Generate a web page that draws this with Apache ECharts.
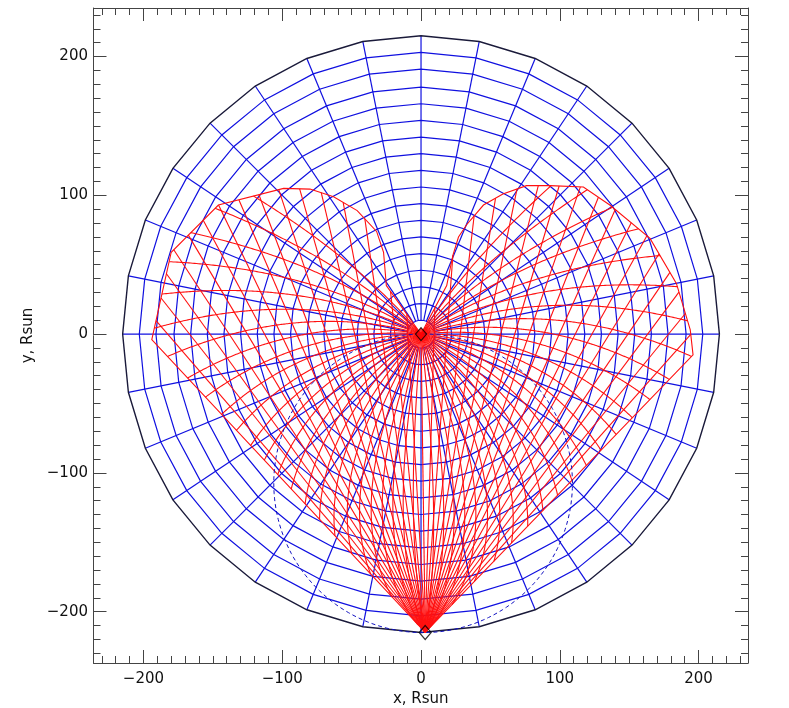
<!DOCTYPE html>
<html><head><meta charset="utf-8">
<script src="https://cdn.jsdelivr.net/npm/echarts@6/dist/echarts.min.js"></script>
<style>html,body{margin:0;padding:0;background:#fff}#c{width:789px;height:708px}</style>
</head><body><div id="c"></div>
<script>
// ---- axis ranges and ticks (Rsun) ----
const X_MIN = -236, X_MAX = 235.6, Y_MIN = -237, Y_MAX = 235;
const MAJOR_TICKS = [-200, -100, 0, 100, 200];
const MINOR_TICKS = [-230,-220,-210,-190,-180,-170,-160,-150,-140,-130,-120,-110,-90,-80,-70,-60,-50,-40,-30,-20,-10,
  10,20,30,40,50,60,70,80,90,110,120,130,140,150,160,170,180,190,210,220,230];
// ---- heliocentric polar grid (blue) ----
const RING_RADII = [10, 22, 34, 46, 58, 70, 82, 94, 106, 118, 130, 142, 154, 166, 178, 191, 203, 215];
const SPOKE_ANGLES = [0, 11.25, 22.5, 33.75, 45, 56.25, 67.5, 78.75, 90, 101.25, 112.5, 123.75, 135, 146.25, 157.5, 168.75,
  180, 191.25, 202.5, 213.75, 225, 236.25, 247.5, 258.75, 270, 281.25, 292.5, 303.75, 315, 326.25, 337.5, 348.75];
// ---- bodies ----
const SUN = [0, 0];
const OBSERVER = [3, -215];
const THOMSON_CENTER = [1.5, -107.5];
const THOMSON_RADIUS = 107.6;
// ---- red mesh: outline of the heart, lines of sight, model directions ----
const HEART_OUTLINE = [[3,-215],[-194,-4],[-180,59],[-146,93],[-99,105],[-80,104.5],[-63,99],[-46,89],[-32,74],[-27,59],[-25,35],[0,0],
  [18.5,35],[23,57],[27,70],[33,79],[45,93],[59,101],[76,107],[93,107],[117,106],[136,93],[165,69],[184,36.5],[194,3],[196,-15],[3,-215]];
const LOS_ELONGATIONS = [-42.5,-40,-37.5,-35,-32.5,-30,-27.5,-25,-22.5,-20,-17.5,-15,-12.5,-10,-7.5,-5,-2.5,0,
  2.5,5,7.5,10,12.5,15,17.5,20,22.5,25,27.5,30,32.5,35,37.5,40,42.5];
const HM_DIRECTIONS = [-78.75,-67.5,-56.25,-45,-33.75,-22.5,-11.25,0,11.25,22.5,33.75,45,56.25,67.5,78.75,90,
  101.25,112.5,123.75,135,146.25,157.5,168.75,180,191.25,202.5,213.75,225,236.25,247.5,258.75];

const rad = Math.PI / 180;
const D = Math.hypot(OBSERVER[0] - SUN[0], OBSERVER[1] - SUN[1]);
const eUp = [-(OBSERVER[0] - SUN[0]) / D, -(OBSERVER[1] - SUN[1]) / D];
const eRight = [eUp[1], -eUp[0]];
function toGlobal(X, Y) { return [SUN[0] + X * eRight[0] + Y * eUp[0], SUN[1] + X * eRight[1] + Y * eUp[1]]; }
function losPoint(epsDeg, s) { const e = epsDeg * rad; return toGlobal(-s * Math.sin(e), -D + s * Math.cos(e)); }
function hmS(eAbs, phi) {
  const e = eAbs * rad, psi = (eAbs + phi) * rad;
  return D * (Math.cos(e) - Math.sin(e) * Math.tan(Math.PI / 4 - psi / 2));
}
const POLY = HEART_OUTLINE.slice(0, -1);
function inside(p) {
  let c = false;
  for (let i = 0, j = POLY.length - 1; i < POLY.length; j = i++) {
    const xi = POLY[i][0], yi = POLY[i][1], xj = POLY[j][0], yj = POLY[j][1];
    if (((yi > p[1]) !== (yj > p[1])) && (p[0] < (xj - xi) * (p[1] - yi) / (yj - yi) + xi)) c = !c;
  }
  return c;
}
function farHit(o, dir) {
  let best = 0;
  for (let i = 0; i < HEART_OUTLINE.length - 1; i++) {
    const a = HEART_OUTLINE[i], b = HEART_OUTLINE[i + 1];
    const ex = b[0] - a[0], ey = b[1] - a[1], ax = a[0] - o[0], ay = a[1] - o[1];
    const det = -dir[0] * ey + ex * dir[1];
    if (Math.abs(det) < 1e-9) continue;
    const t = (-ax * ey + ex * ay) / det;
    const u = (dir[0] * ay - dir[1] * ax) / det;
    if (u >= -1e-6 && u <= 1 + 1e-6 && t > 1 && t > best) best = t;
  }
  return best;
}
function hmCurve(phi, side) {
  const pts = [SUN.slice()];
  let prevE = 0;
  for (let e = 0.2; e <= 46; e += 0.2) {
    const s = hmS(e, phi);
    if (!(s > 0)) { pts.push(OBSERVER.slice()); break; }
    const p = losPoint(side * e, s);
    if (!inside(p)) {
      if (Math.hypot(p[0] - SUN[0], p[1] - SUN[1]) < 1.5) { prevE = e; continue; }
      let lo = prevE, hi = e;
      for (let k = 0; k < 25; k++) {
        const mid = (lo + hi) / 2;
        if (inside(losPoint(side * mid, hmS(mid, phi)))) lo = mid; else hi = mid;
      }
      pts.push(losPoint(side * lo, hmS(lo, phi)));
      break;
    }
    pts.push(p); prevE = e;
  }
  return pts;
}

// ---- build geometry ----
const closedAngles = SPOKE_ANGLES.concat([SPOKE_ANGLES[0]]);
const outerR = RING_RADII[RING_RADII.length - 1];
const ringLines = RING_RADII.slice(0, -1).map(r => ({ coords: closedAngles.map(a => [r * Math.cos(a * rad), r * Math.sin(a * rad)]) }));
const outerRing = [{ coords: closedAngles.map(a => [outerR * Math.cos(a * rad), outerR * Math.sin(a * rad)]) }];
const spokeLines = SPOKE_ANGLES.map(a => ({ coords: [[RING_RADII[0] * Math.cos(a * rad), RING_RADII[0] * Math.sin(a * rad)], [outerR * Math.cos(a * rad), outerR * Math.sin(a * rad)]] }));
const thomson = [{ coords: Array.from({ length: 181 }, (_, i) => [THOMSON_CENTER[0] + THOMSON_RADIUS * Math.cos(i * 2 * rad), THOMSON_CENTER[1] + THOMSON_RADIUS * Math.sin(i * 2 * rad)]) }];
const redLines = [];
LOS_ELONGATIONS.forEach(eps => {
  const p1 = losPoint(eps, 1); const dir = [p1[0] - OBSERVER[0], p1[1] - OBSERVER[1]];
  const s = farHit(OBSERVER, dir);
  if (s > 0) redLines.push({ coords: [OBSERVER.slice(), [OBSERVER[0] + s * dir[0], OBSERVER[1] + s * dir[1]]] });
});
HM_DIRECTIONS.forEach(phi => { [1, -1].forEach(side => { const c = hmCurve(phi, side); if (c.length > 1) redLines.push({ coords: c }); }); });
redLines.push({ coords: HEART_OUTLINE });

const fmt = v => (v < 0 ? '\u2212' + Math.abs(v) : String(v));
const FONT = 'DejaVu Sans';
function axis(kind, pos, ticks, len, main) {
  const o = {
    type: 'value', position: pos,
    min: kind === 'x' ? X_MIN : Y_MIN, max: kind === 'x' ? X_MAX : Y_MAX,
    axisLine: { show: main, onZero: false, lineStyle: { color: '#444', width: 1 } },
    axisTick: { show: true, inside: true, length: len, customValues: ticks, lineStyle: { color: '#444', width: 1 } },
    axisLabel: { show: main && (pos === 'bottom' || pos === 'left'), customValues: MAJOR_TICKS, formatter: fmt,
      margin: kind === 'x' ? 9 : 5.5, color: '#111', fontSize: 15, fontFamily: FONT },
    splitLine: { show: false }
  };
  if (main && pos === 'bottom') Object.assign(o, { name: 'x, Rsun', nameLocation: 'middle', nameGap: 26, nameTextStyle: { fontSize: 15, color: '#111', fontFamily: FONT } });
  if (main && pos === 'left') Object.assign(o, { name: 'y, Rsun', nameLocation: 'middle', nameGap: 55, nameRotate: 90, nameTextStyle: { fontSize: 15, color: '#111', fontFamily: FONT } });
  return o;
}
const chart = echarts.init(document.getElementById('c'), null, { renderer: 'canvas' });
const L = (data, color, width, z, extra) => ({ type: 'lines', coordinateSystem: 'cartesian2d', polyline: true, silent: true, z: z,
  lineStyle: Object.assign({ color: color, width: width, opacity: 1 }, extra || {}), data: data });
chart.setOption({
  animation: false,
  grid: { left: 93.5, right: 41, top: 8, bottom: 45, containLabel: false, outerBoundsMode: 'none' },
  xAxis: [axis('x', 'bottom', MAJOR_TICKS, 13, true), axis('x', 'bottom', MINOR_TICKS, 7, false),
          axis('x', 'top', MAJOR_TICKS, 13, true), axis('x', 'top', MINOR_TICKS, 7, false)],
  yAxis: [axis('y', 'left', MAJOR_TICKS, 13, true), axis('y', 'left', MINOR_TICKS, 7, false),
          axis('y', 'right', MAJOR_TICKS, 13, true), axis('y', 'right', MINOR_TICKS, 7, false)],
  series: [
    L(ringLines, '#1010e0', 1.2, 2),
    L(spokeLines, '#1010e0', 1.2, 2),
    L(outerRing, '#1a1a3a', 1.4, 3),
    L(redLines, '#ff1010', 1.1, 4),
    L(thomson, '#1010c0', 1, 5, { type: [4, 3] }),
    { type: 'scatter', silent: true, z: 6, symbol: 'diamond', symbolSize: [11, 13], data: [SUN],
      itemStyle: { color: '#ff0000', borderColor: '#000', borderWidth: 1.2 } },
    { type: 'scatter', silent: true, z: 6, symbol: 'diamond', symbolSize: [12, 14], data: [OBSERVER],
      itemStyle: { color: 'rgba(255,255,255,0)', borderColor: '#000', borderWidth: 1.2 } }
  ]
});
</script></body></html>
